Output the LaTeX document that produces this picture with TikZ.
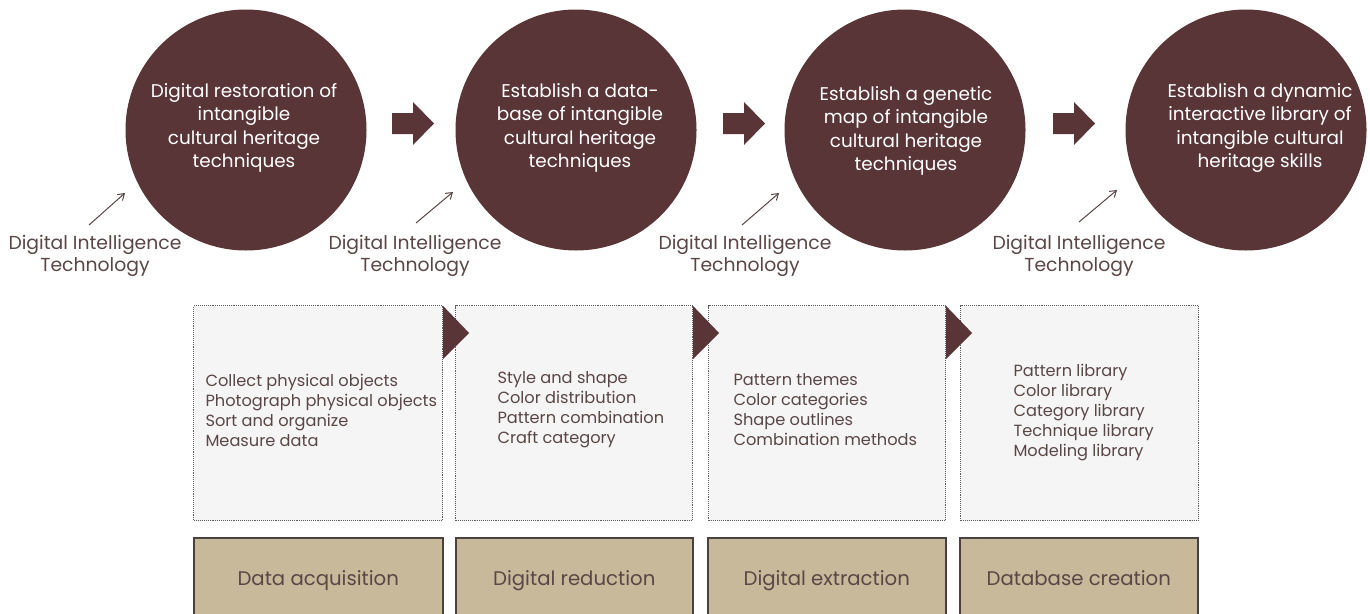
\documentclass[tikz,border=0pt]{standalone}
\usepackage{fontspec}
\setmainfont{Poppins}
\usetikzlibrary{arrows.meta}
\definecolor{maroon}{HTML}{5A3538}
\definecolor{tanfill}{HTML}{C8B99A}
\definecolor{txt}{HTML}{5A4646}
\definecolor{panelfill}{HTML}{F5F5F5}
\definecolor{dotc}{HTML}{5E5E5E}
\definecolor{edgec}{HTML}{4A4242}
\begin{document}
\begin{tikzpicture}[x=1pt,y=-1pt,
  stage/.style={circle, fill=maroon, minimum size=241pt, inner sep=0pt},
  stagetext/.style={text=white, align=center, font=\fontsize{18.4}{23.5}\selectfont},
  tech/.style={text=txt, align=center, font=\fontsize{18.8}{22}\selectfont},
  techarrow/.style={draw=txt, line width=1pt, -{Straight Barb[length=6pt,width=8pt]}},
  panelbox/.style={draw=dotc, densely dotted, fill=panelfill, line width=1.1pt, anchor=north west, minimum height=215pt},
  listtext/.style={text=txt, align=left, anchor=west, font=\fontsize{16.2}{20}\selectfont},
  phase/.style={draw=edgec, fill=tanfill, line width=1.5pt, anchor=north west, minimum height=86pt, text=txt, text height=14pt, text depth=4pt, font=\fontsize{19.7}{24}\selectfont},
  flowtri/.style={fill=maroon},
  blockarrow/.style={fill=maroon}]
\useasboundingbox (0,0) rectangle (1370,613);
\clip (0,0) rectangle (1370,613);
\fill[white] (0,0) rectangle (1370,613);

% circles
\node[stage] (c1) at (246,130) {};
\node[stage] (c2) at (576,130) {};
\node[stage] (c3) at (905,130) {};
\node[stage] (c4) at (1246,130) {};
\node[stagetext] (s1) at (244,128) {Digital restoration of\\intangible\\cultural heritage\\techniques};
\node[stagetext] (s2) at (580,128) {Establish a data-\\base of intangible\\cultural heritage\\techniques};
\node[stagetext] (s3) at (906,131) {Establish a genetic\\map of intangible\\cultural heritage\\techniques};
\node[stagetext] (s4) at (1260,128) {Establish a dynamic\\interactive library of\\intangible cultural\\heritage skills};

% block arrows between circles
\foreach \x in {392,723,1053}{
  \fill[blockarrow] (\x,113) -- ++(21,0) -- ++(0,-11) -- ++(21,21.5) -- ++(-21,21.5) -- ++(0,-11) -- ++(-21,0) -- cycle;
}

% technology labels
\node[tech] (t1) at (95,256) {Digital Intelligence\\Technology};
\node[tech] (t2) at (415,256) {Digital Intelligence\\Technology};
\node[tech] (t3) at (745,256) {Digital Intelligence\\Technology};
\node[tech] (t4) at (1079,256) {Digital Intelligence\\Technology};
\coordinate (a1s) at (89,225);  \coordinate (a1e) at (125,193);
\coordinate (a2s) at (416,223); \coordinate (a2e) at (453,192);
\coordinate (a3s) at (742,225); \coordinate (a3e) at (779,193);
\coordinate (a4s) at (1079,222); \coordinate (a4e) at (1117,190);
\draw[techarrow] (a1s) -- (a1e);
\draw[techarrow] (a2s) -- (a2e);
\draw[techarrow] (a3s) -- (a3e);
\draw[techarrow] (a4s) -- (a4e);

% dotted panels
\node[panelbox, minimum width=249pt] (p1) at (193,305) {};
\node[panelbox, minimum width=237pt] (p2) at (455,305) {};
\node[panelbox, minimum width=237pt] (p3) at (708,305) {};
\node[panelbox, minimum width=238pt] (p4) at (960,305) {};

\node[listtext] (l1) at (202,410) {Collect physical objects\\Photograph physical objects\\Sort and organize\\Measure data};
\node[listtext] (l2) at (494,410) {Style and shape\\Color distribution\\Pattern combination\\Craft category};
\node[listtext] (l3) at (730,410) {Pattern themes\\Color categories\\Shape outlines\\Combination methods};
\node[listtext] (l4) at (1010,413) {Pattern library\\Color library\\Category library\\Technique library\\Modeling library};

% triangles
\fill[flowtri] (p1.north east) ++(0,1) -- ++(26,27) -- ++(-26,26) -- cycle;
\fill[flowtri] (p2.north east) ++(0,1) -- ++(26,27) -- ++(-26,26) -- cycle;
\fill[flowtri] (p3.north east) ++(0,1) -- ++(26,27) -- ++(-26,26) -- cycle;

% phase boxes
\node[phase, minimum width=249pt] (b1) at (193,537) {Data acquisition};
\node[phase, minimum width=237pt] (b2) at (455,537) {Digital reduction};
\node[phase, minimum width=238pt] (b3) at (707,537) {Digital extraction};
\node[phase, minimum width=238pt] (b4) at (959,537) {Database creation};
\end{tikzpicture}
\end{document}
